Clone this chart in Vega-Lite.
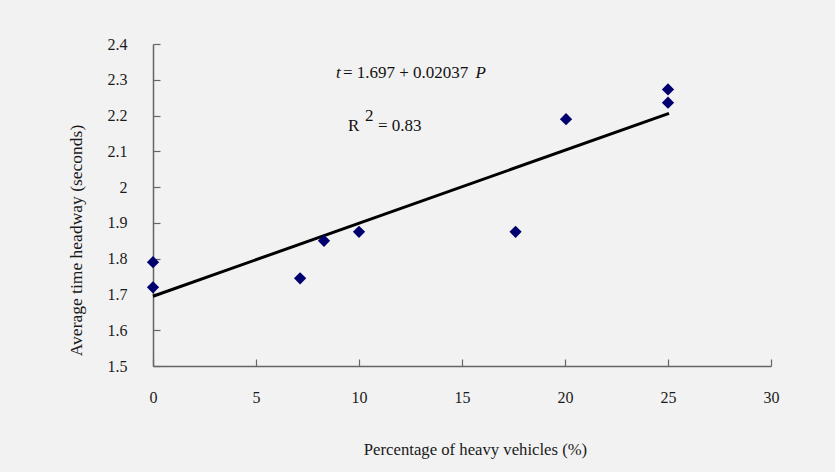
{
  "$schema": "https://vega.github.io/schema/vega-lite/v6.json",
  "width": 618,
  "height": 322,
  "autosize": {"type": "none"},
  "padding": {"left": 153, "top": 44, "right": 64, "bottom": 106},
  "background": "#f2f2f2",
  "config": {
    "view": {"stroke": null},
    "font": "Liberation Serif",
    "axis": {
      "grid": false,
      "domainColor": "#666666",
      "domainWidth": 1.5,
      "tickColor": "#666666",
      "tickWidth": 1.2,
      "tickSize": -7,
      "labelFont": "Liberation Serif",
      "labelFontSize": 16,
      "labelColor": "#1a1a1a",
      "labelFlush": false,
      "labelOverlap": false,
      "titleFont": "Liberation Serif",
      "titleFontWeight": "normal",
      "titleColor": "#1a1a1a"
    }
  },
  "datasets": {
    "points": [
      {"x": 0, "y": 1.79},
      {"x": 0, "y": 1.72},
      {"x": 7.14, "y": 1.745},
      {"x": 8.3, "y": 1.85},
      {"x": 10, "y": 1.875},
      {"x": 17.6, "y": 1.875},
      {"x": 20.05, "y": 2.19},
      {"x": 25, "y": 2.273},
      {"x": 25, "y": 2.236}
    ],
    "fit": [
      {"x": 0, "y": 1.695},
      {"x": 25.05, "y": 2.206}
    ],
    "notes": [
      {"x": 8.88, "y": 2.319, "label": "t", "style": "italic"},
      {"x": 9.22, "y": 2.319, "label": "= 1.697 + 0.02037", "style": "normal"},
      {"x": 15.66, "y": 2.319, "label": "P", "style": "italic"},
      {"x": 9.47, "y": 2.171, "label": "R", "style": "normal"},
      {"x": 10.29, "y": 2.2, "label": "2", "style": "normal"},
      {"x": 10.92, "y": 2.171, "label": "= 0.83", "style": "normal"}
    ]
  },
  "encoding": {
    "x": {
      "field": "x",
      "type": "quantitative",
      "scale": {"domain": [0, 30], "nice": false, "zero": false},
      "axis": {
        "title": "Percentage of heavy vehicles (%)",
        "values": [0, 5, 10, 15, 20, 25, 30],
        "labelPadding": 30,
        "titleFontSize": 16.7,
        "titlePadding": 36,
        "titleX": 322
      }
    },
    "y": {
      "field": "y",
      "type": "quantitative",
      "scale": {"domain": [1.5, 2.4], "nice": false, "zero": false},
      "axis": {
        "title": "Average time headway (seconds)",
        "values": [1.5, 1.6, 1.7, 1.8, 1.9, 2.0, 2.1, 2.2, 2.3, 2.4],
        "format": ".1~f",
        "labelPadding": 33,
        "titleFontSize": 17.5,
        "titlePadding": 22,
        "titleY": 196
      }
    }
  },
  "layer": [
    {
      "data": {"name": "fit"},
      "mark": {"type": "line", "color": "#000000", "strokeWidth": 3}
    },
    {
      "data": {"name": "points"},
      "mark": {"type": "point", "shape": "diamond", "filled": true, "color": "#00006e", "opacity": 1, "size": 150}
    },
    {
      "data": {"name": "notes"},
      "transform": [{"filter": "datum.style === 'italic'"}],
      "mark": {"type": "text", "align": "left", "baseline": "middle", "fontSize": 17, "fontStyle": "italic", "color": "#111111"},
      "encoding": {"text": {"field": "label"}}
    },
    {
      "data": {"name": "notes"},
      "transform": [{"filter": "datum.style === 'normal'"}],
      "mark": {"type": "text", "align": "left", "baseline": "middle", "fontSize": 17, "color": "#111111"},
      "encoding": {"text": {"field": "label"}}
    }
  ]
}
